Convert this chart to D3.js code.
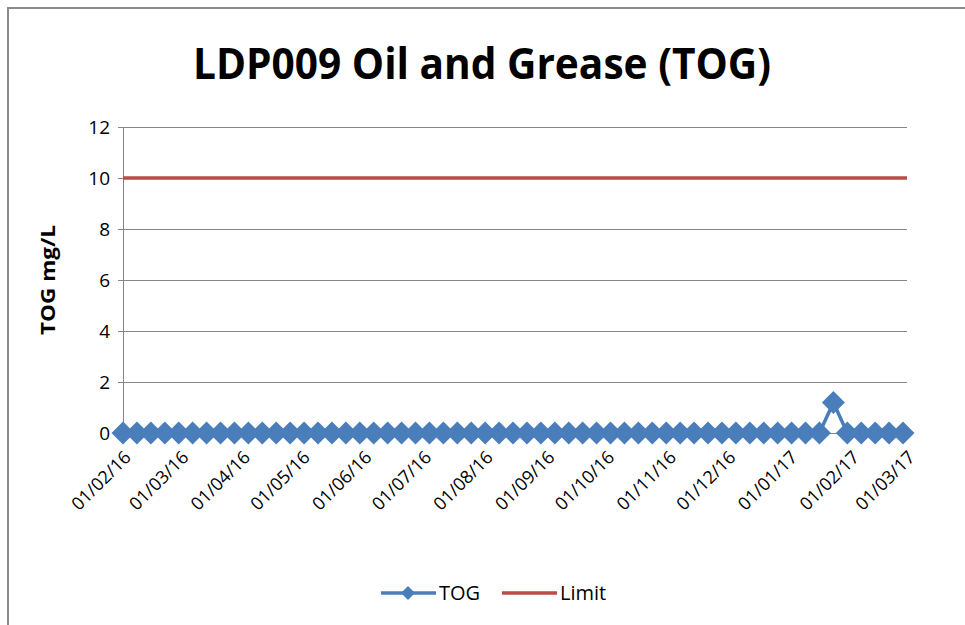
<!DOCTYPE html>
<html>
<head>
<meta charset="utf-8">
<script src="https://cdn.jsdelivr.net/npm/d3@7"></script>
<style>
  body { margin: 0; background: #fff; }
  text { font-family: "Open Sans", "DejaVu Sans", sans-serif; fill: #000; }
</style>
</head>
<body>
<svg id="chart" width="965" height="625"></svg>
<script>
// weekly TOG samples
const sampleDates = [
  "2016-02-01","2016-02-08","2016-02-15","2016-02-22","2016-02-29",
  "2016-03-07","2016-03-14","2016-03-21","2016-03-28",
  "2016-04-04","2016-04-11","2016-04-18","2016-04-25",
  "2016-05-02","2016-05-09","2016-05-16","2016-05-23","2016-05-30",
  "2016-06-06","2016-06-13","2016-06-20","2016-06-27",
  "2016-07-04","2016-07-11","2016-07-18","2016-07-25",
  "2016-08-01","2016-08-08","2016-08-15","2016-08-22","2016-08-29",
  "2016-09-05","2016-09-12","2016-09-19","2016-09-26",
  "2016-10-03","2016-10-10","2016-10-17","2016-10-24","2016-10-31",
  "2016-11-07","2016-11-14","2016-11-21","2016-11-28",
  "2016-12-05","2016-12-12","2016-12-19","2016-12-26",
  "2017-01-02","2017-01-09","2017-01-16","2017-01-23","2017-01-30",
  "2017-02-06","2017-02-13","2017-02-20","2017-02-27"
];
const togValues = [
  0,0,0,0,0,
  0,0,0,0,
  0,0,0,0,
  0,0,0,0,0,
  0,0,0,0,
  0,0,0,0,
  0,0,0,0,0,
  0,0,0,0,
  0,0,0,0,0,
  0,0,0,0,
  0,0,0,0,
  0,0,0,1.2,0,
  0,0,0,0
];
const limitDates = ["2016-02-01", "2017-03-01"];
const limitValues = [10, 10];
const yTicks = [0, 2, 4, 6, 8, 10, 12];
const monthTicks = [
  "2016-02-01","2016-03-01","2016-04-01","2016-05-01","2016-06-01","2016-07-01",
  "2016-08-01","2016-09-01","2016-10-01","2016-11-01","2016-12-01","2017-01-01",
  "2017-02-01","2017-03-01"
];

const parse = d3.timeParse("%Y-%m-%d");
const fmt = d3.timeFormat("%d/%m/%y");

const blue = "#4A7EBB", red = "#BE4B48", grid = "#868686";

const svg = d3.select("#chart");

// chart area border
svg.append("rect")
  .attr("x", 8).attr("y", 8).attr("width", 980).attr("height", 640)
  .attr("fill", "none").attr("stroke", "#8a8a8a").attr("stroke-width", 2);

const plotLeft = 123, plotRight = 907, plotTop = 127, plotBottom = 433;

const x = d3.scaleTime()
  .domain([parse("2016-02-01"), parse("2017-03-01")])
  .range([plotLeft, plotRight]);
const y = d3.scaleLinear().domain([0, 12]).range([plotBottom, plotTop]);

// gridlines
svg.append("g").selectAll("line")
  .data(yTicks.filter(d => d > 0))
  .enter().append("line")
    .attr("x1", plotLeft - 5).attr("x2", plotRight)
    .attr("y1", d => y(d)).attr("y2", d => y(d))
    .attr("stroke", grid).attr("stroke-width", 1).attr("shape-rendering", "crispEdges");

// y axis
const yAxis = svg.append("g")
  .attr("transform", "translate(" + plotLeft + ",0)")
  .call(d3.axisLeft(y).tickValues(yTicks).tickSize(5).tickPadding(8));
yAxis.select(".domain").attr("stroke", grid);
yAxis.selectAll(".tick line").attr("stroke", grid);
yAxis.selectAll("text").attr("font-size", 19).attr("fill", "#000");

// x axis
const xAxis = svg.append("g")
  .attr("transform", "translate(0," + plotBottom + ")")
  .call(d3.axisBottom(x).tickValues(monthTicks.map(parse)).tickFormat(fmt).tickSize(5));
xAxis.select(".domain").attr("stroke", grid);
xAxis.selectAll(".tick line").attr("stroke", grid);
xAxis.selectAll("text")
  .attr("font-size", 18).attr("fill", "#111")
  .attr("text-anchor", "end")
  .attr("x", 0).attr("y", 0).attr("dy", "0.35em")
  .attr("transform", "translate(4,21) rotate(-45)");

// limit line
const line = d3.line().x(d => x(d[0])).y(d => y(d[1]));
svg.append("path")
  .datum(limitDates.map((d, i) => [parse(d), limitValues[i]]))
  .attr("d", line)
  .attr("fill", "none").attr("stroke", red).attr("stroke-width", 3.5);

// TOG series
const tog = sampleDates.map((d, i) => [parse(d), togValues[i]]);
svg.append("path")
  .datum(tog)
  .attr("d", line)
  .attr("fill", "none").attr("stroke", blue).attr("stroke-width", 3.5);

function diamondPath(r) {
  return "M0," + (-r) + "L" + r + ",0L0," + r + "L" + (-r) + ",0Z";
}
svg.append("g").selectAll("path")
  .data(tog)
  .enter().append("path")
    .attr("d", diamondPath(11.5))
    .attr("transform", d => "translate(" + x(d[0]) + "," + y(d[1]) + ")")
    .attr("fill", blue);

// title
svg.append("text")
  .attr("x", 482).attr("y", 79)
  .attr("text-anchor", "middle")
  .attr("font-size", 43).attr("font-weight", "bold")
  .attr("textLength", 578).attr("lengthAdjust", "spacingAndGlyphs")
  .text("LDP009 Oil and Grease (TOG)");

// y axis title
svg.append("text")
  .attr("transform", "translate(55,280) rotate(-90)")
  .attr("text-anchor", "middle")
  .attr("font-size", 20).attr("font-weight", "bold")
  .attr("textLength", 110).attr("lengthAdjust", "spacingAndGlyphs")
  .text("TOG mg/L");

// legend
const legend = svg.append("g");
legend.append("line")
  .attr("x1", 381).attr("x2", 436).attr("y1", 593).attr("y2", 593)
  .attr("stroke", blue).attr("stroke-width", 3.5);
legend.append("path")
  .attr("d", diamondPath(7))
  .attr("transform", "translate(408,593)")
  .attr("fill", blue);
legend.append("text")
  .attr("x", 439).attr("y", 593).attr("dy", "0.35em")
  .attr("font-size", 20).text("TOG");
legend.append("line")
  .attr("x1", 502).attr("x2", 557).attr("y1", 593).attr("y2", 593)
  .attr("stroke", red).attr("stroke-width", 3.5);
legend.append("text")
  .attr("x", 560).attr("y", 593).attr("dy", "0.35em")
  .attr("font-size", 20).text("Limit");
</script>
</body>
</html>
